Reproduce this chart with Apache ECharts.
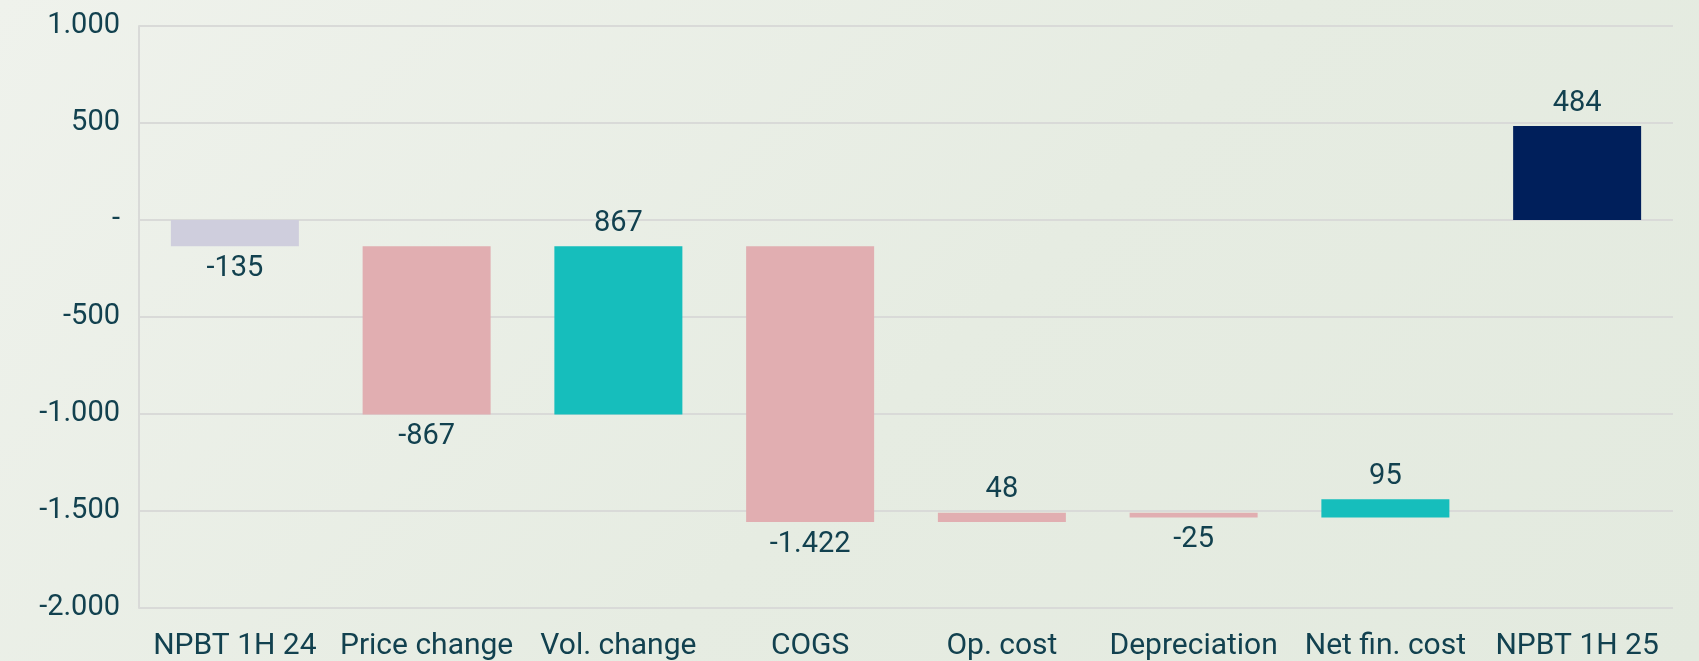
<!DOCTYPE html>
<html lang="en">
<head>
    <meta charset="UTF-8">
    <title>NPBT bridge</title>
    <style>
        html, body { margin: 0; padding: 0; }
        body { background: linear-gradient(135deg, #eff2ec 0%, #e6ece2 55%, #e3eadf 100%); }
        #chart { width: 1699px; height: 661px; }
    </style>
    <script src="https://cdn.jsdelivr.net/npm/echarts@6/dist/echarts.min.js"></script>
</head>
<body>
<div id="chart"></div>
<script>
    // categories and changes
    var categories = ['NPBT 1H 24', 'Price change', 'Vol. change', 'COGS', 'Op. cost', 'Depreciation', 'Net fin. cost', 'NPBT 1H 25']
    var deltas = [-135, -867, 867, -1422, 48, -25, 95, 484]
    // first and last bars are totals drawn from zero
    var isTotal = [true, false, false, false, false, false, false, true]
    var yTicks = [-2000, -1500, -1000, -500, 0, 500, 1000]

    var barColors = ['#cfcedd', '#e1aeb1', '#16bebc', '#e1aeb1', '#e1aeb1', '#e1aeb1', '#16bebc', '#001f5b']
    var textColor = '#12414f'

    // waterfall: invisible base + visible step
    var baseData = []
    var stepData = []
    var level = 0
    deltas.forEach(function (d, i) {
        var start = isTotal[i] ? 0 : level
        var end = start + d
        level = end
        baseData.push(Math.min(start, end))
        stepData.push({
            value: Math.abs(d),
            itemStyle: {color: barColors[i]},
            label: {position: d < 0 ? 'bottom' : 'top'}
        })
    })

    function fmt(v) {
        if (v === 0) return '-'
        var s = Math.abs(v).toString().replace(/\B(?=(\d{3})+(?!\d))/g, '.')
        return (v < 0 ? '-' : '') + s
    }

    var myChart = echarts.init(document.getElementById('chart'))
    myChart.setOption({
        animation: false,
        textStyle: {fontFamily: 'Roboto'},
        grid: {left: 139, right: 26, top: 26, bottom: 51},
        xAxis: {
            type: 'category',
            data: categories,
            axisLine: {show: false},
            axisTick: {show: false},
            axisLabel: {color: textColor, fontSize: 30, margin: 23, interval: 0}
        },
        yAxis: {
            type: 'value',
            min: yTicks[0],
            max: yTicks[yTicks.length - 1],
            interval: 500,
            axisLine: {show: true, lineStyle: {color: '#d9dad8', width: 2}},
            axisTick: {show: false},
            splitLine: {lineStyle: {color: '#d9dad8', width: 2}},
            axisLabel: {color: textColor, fontSize: 29, margin: 19, formatter: fmt}
        },
        series: [{
            type: 'bar',
            stack: 'w',
            stackStrategy: 'all',
            data: baseData,
            itemStyle: {color: 'transparent'},
            barWidth: 128,
            silent: true
        }, {
            type: 'bar',
            stack: 'w',
            stackStrategy: 'all',
            data: stepData,
            barWidth: 128,
            label: {
                show: true,
                color: textColor,
                fontSize: 29,
                distance: 8,
                formatter: function (p) { return fmt(deltas[p.dataIndex]) }
            }
        }]
    })
</script>
</body>
</html>
